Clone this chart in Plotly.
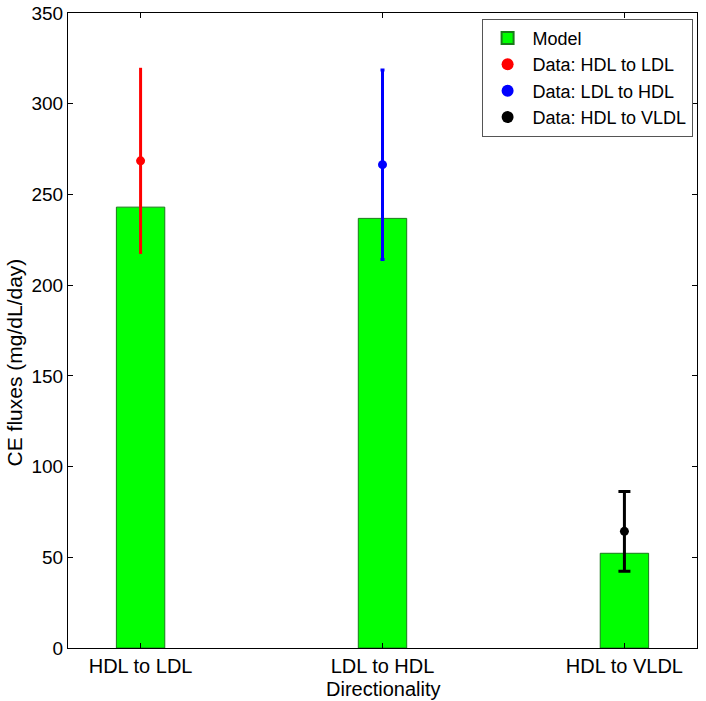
import plotly.graph_objects as go

categories = ["HDL to LDL", "LDL to HDL", "HDL to VLDL"]
positions = [1, 2, 3]
model_values = [243.0, 236.8, 52.2]
data_names = ["Data: HDL to LDL", "Data: LDL to HDL", "Data: HDL to VLDL"]
data_values = [268.5, 266.4, 64.3]
data_errors = [51.3, 52.2, 22.0]
data_colors = ["#ff0000", "#0000ff", "#000000"]
cap_widths = [0, 2, 6]
x_title = "Directionality"
y_title = "CE fluxes (mg/dL/day)"

fig = go.Figure()
fig.add_trace(go.Bar(
    x=positions, y=model_values, width=0.2, name="Model",
    marker=dict(color="#00ff00", line=dict(color="#1a7a1a", width=1)),
))
for i in range(3):
    fig.add_trace(go.Scatter(
        x=[positions[i]], y=[data_values[i]], mode="markers", name=data_names[i],
        marker=dict(color=data_colors[i], size=9),
        error_y=dict(type="data", array=[data_errors[i]], color=data_colors[i],
                     thickness=3, width=cap_widths[i]),
    ))

font = "Liberation Sans, Arial, sans-serif"
fig.update_layout(
    width=706, height=701,
    margin=dict(l=68, r=9, t=13, b=53, autoexpand=False),
    paper_bgcolor="white", plot_bgcolor="white",
    font=dict(family=font, size=19, color="black"),
    showlegend=True,
    legend=dict(x=0.993, y=0.991, xanchor="right", yanchor="top",
                bordercolor="#555555", borderwidth=1, bgcolor="white",
                font=dict(size=18), tracegroupgap=0, itemsizing="constant",
                itemwidth=40),
    xaxis=dict(range=[0.7, 3.3], tickmode="array", tickvals=positions, ticktext=categories,
               tickfont=dict(size=20), automargin=False,
               showline=True, linecolor="black", linewidth=1, mirror="ticks",
               ticks="inside", ticklen=5, tickcolor="black", showgrid=False, zeroline=False),
    yaxis=dict(range=[0, 350], tickmode="linear", tick0=0, dtick=50,
               tickfont=dict(size=19), automargin=False,
               showline=True, linecolor="black", linewidth=1, mirror="ticks",
               ticks="inside", ticklen=5, tickcolor="black", showgrid=False, zeroline=False),
    annotations=[
        dict(text=x_title, xref="paper", yref="paper", x=0.5, y=-0.064,
             xanchor="center", yanchor="middle", showarrow=False, font=dict(size=20)),
        dict(text=y_title, xref="paper", yref="paper", x=-0.085, y=0.449,
             xanchor="center", yanchor="middle", textangle=-90, showarrow=False,
             font=dict(size=21)),
    ],
)
fig.write_html("out.html", config={"displayModeBar": False})

with open("out.html", "r", encoding="utf-8") as f:
    html = f.read()
html = html.replace("<head>", "<head><style>html,body{margin:0;padding:0;}</style>", 1)
with open("out.html", "w", encoding="utf-8") as f:
    f.write(html)
